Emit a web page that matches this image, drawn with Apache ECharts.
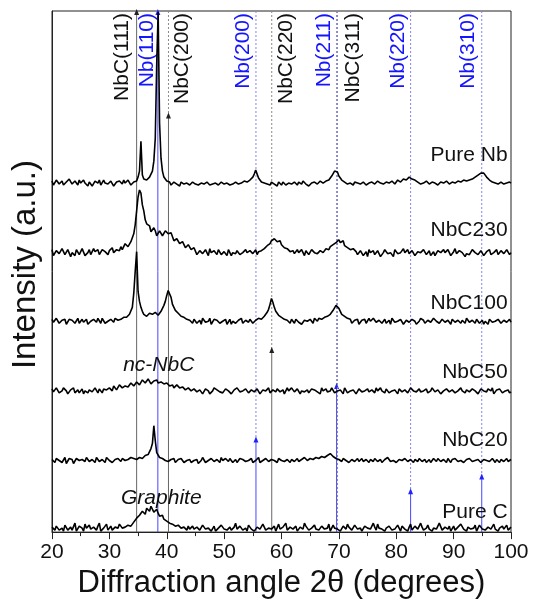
<!DOCTYPE html>
<html>
<head>
<meta charset="utf-8">
<script src="https://cdn.jsdelivr.net/npm/echarts@6/dist/echarts.min.js"></script>
<style>
  html, body { margin: 0; padding: 0; background: #fff; }
  #chart { width: 536px; height: 604px; }
</style>
</head>
<body>
<div id="chart"></div>
<script>
// XRD patterns. Each pattern has two lists:
//   *At  -> values at 20, 20.5, 21 ... 100 deg (161 points)
//   *Mid -> values at 20.25, 20.75 ... 99.75 deg (160 points)
// Values are heights above the pattern's own baseline (a.u.).
const sampleNames = ["Pure Nb", "NbC230", "NbC100", "NbC50", "NbC20", "Pure C"];
const sampleOffsets = [351, 281, 212, 142, 72, 3];

const pureNbAt = [
  2,-1,3,0,-2,1,4,-1,2,-2,0,3,-1,1,-3,2,0,-2,3,1,-1,2,-2,0,1,3,-1,2,0,1,
  6,42,4,3,6,12,45,172,25,6,2,
  1,-1,0,-2,1,-1,0,-2,1,-1,-2,0,-1,1,-2,-1,0,-2,1,-1,0,-2,-1,1,-1,0,2,1,3,
  6,13,5,1,
  0,-1,-2,0,-1,1,-2,-1,0,-2,-1,0,1,-1,0,-2,-1,1,0,-1,1,2,3,5,
  8,14,7,3,
  1,-1,0,-2,-1,0,-1,1,-2,0,-1,0,1,-1,0,1,2,0,1,2,3,
  3,5,5,4,2,
  0,1,-1,0,-1,1,0,-1,2,0,1,-1,0,1,2,1,3,2,4,5,
  7,9,11,8,4,2,
  1,0,-1,1,0,-1,0
];
const pureNbMid = [
  -2,3,-1,2,-3,0,2,-2,1,3,-1,0,-3,2,-1,1,3,-2,0,-1,2,-3,1,2,-1,0,3,-2,1,
  2,12,8,3,5,9,22,120,60,12,4,
  0,-2,1,-1,-3,0,1,-2,0,-1,1,-3,0,-1,2,-2,0,-1,-3,1,-1,0,-2,1,-1,0,1,2,2,
  4,9,11,3,0,
  -2,0,1,-1,-3,0,1,-2,0,-1,1,-2,0,2,-1,-3,0,1,-1,2,0,2,3,
  7,12,11,5,2,
  -1,0,-2,1,0,-1,1,-2,0,1,-1,2,0,-1,1,0,2,-1,3,1,
  4,3,6,4,3,1,
  -1,0,2,-1,1,0,-2,1,0,2,-1,1,0,2,1,3,2,3,4,
  6,8,10,10,6,3,1,
  0,-1,1,-1,0,1
];

const nbc230At = [
  3,-2,4,-3,1,-4,2,0,-3,4,-1,2,-4,3,-2,1,
  3,-1,4,0,2,5,1,4,
  6,5,8,7,13,28,56,60,42,29,27,20,22,16,21,18,23,17,16,11,13,8,9,5,7,2,
  3,-1,2,-3,1,4,-2,0,3,-2,1,-3,2,0,-1,3,-2,1,0,2,-1,3,1,2,
  4,7,9,11,13,10,8,5,4,1,
  2,-2,0,3,-3,1,-1,2,-2,1,3,2,
  4,6,8,10,13,11,7,5,3,4,
  1,-3,2,-1,-4,0,2,-2,1,-3,3,-1,0,-4,2,1,-2,0,3,-3,
  1,-1,2,-2,4,0,-3,1,-1,2,-2,0,3,-3,1,-1,2,0,-4,1,
  -2,3,-1,0,2,-3,1,-2,0,3,-1,2,-3,1,0
];
const nbc230Mid = [
  -3,2,-1,4,-2,3,-4,1,3,-2,4,-3,0,-2,4,-1,
  -2,3,1,-2,4,0,3,2,
  3,9,6,11,19,42,63,48,33,30,21,25,17,22,17,22,19,20,12,14,9,11,5,8,3,5,
  -2,2,-1,3,-3,0,2,-2,4,-1,0,3,-3,1,2,-2,0,3,-1,2,0,-2,3,1,
  6,5,12,14,11,12,6,7,2,3,
  -1,3,-2,1,2,-2,3,0,-1,2,0,4,
  3,8,7,12,10,12,5,6,1,3,
  -2,2,-3,1,3,-1,-2,2,-4,0,2,-3,1,3,-1,0,4,-2,-1,2,
  -3,1,0,3,-2,2,-1,-3,2,0,3,-2,1,-1,4,-3,0,2,-1,-2,
  3,0,-2,2,-3,1,3,-1,0,-2,2,-1,3,-2
];

const nbc100At = [
  2,-2,3,-1,0,-3,2,1,-2,3,0,-1,2,-3,1,0,3,-2,1,-1,2,0,3,1,2,4,
  4,7,14,50,30,14,7,5,8,7,9,6,10,16,26,30,17,11,8,5,4,2,
  1,-2,2,0,-3,1,-1,3,-2,0,2,-1,1,-3,2,0,-2,1,3,-1,0,2,-2,1,3,2,
  5,9,17,19,10,6,4,2,
  1,-2,0,2,-1,-3,1,0,2,-2,1,3,2,4,
  5,7,11,16,13,7,5,3,
  2,-1,0,-3,1,2,-2,0,3,-1,1,-2,2,0,-3,1,-1,2,0,-2,
  3,-1,1,-3,0,2,-2,1,-1,3,0,-2,2,-1,1,-3,2,0,-1,1,
  -2,3,0,-1,2,-2,1,0,-3,2,1,-1,3,-2,0,1,-1
];
const nbc100Mid = [
  -1,3,-2,1,2,-3,0,3,-1,-2,2,1,-3,0,2,-1,1,3,-2,0,2,-1,1,3,0,2,
  5,9,28,70,20,10,6,7,9,8,7,8,13,20,31,24,14,9,7,4,3,1,
  -1,2,-2,1,3,-1,0,-3,2,1,-2,0,2,-1,-3,1,0,2,-2,1,-1,3,0,2,1,3,
  7,12,23,14,8,5,3,0,
  -1,2,-2,1,0,-2,2,-1,1,3,0,2,3,4,
  6,9,13,16,10,6,4,2,
  -2,1,2,-1,0,-2,3,-1,1,-3,2,0,-2,1,3,-1,0,2,-3,1,
  -1,2,0,-2,3,1,-1,0,-3,2,1,-1,3,-2,0,2,-1,1,-2,0,
  3,-1,1,-2,2,0,-3,1,2,-1,0,2,-2,1,-1,2
];

const nbc50At = [
  2,-2,1,-3,3,0,-1,2,-2,1,0,-3,2,1,-1,3,-2,0,2,1,
  3,0,4,1,5,2,6,4,7,5,
  9,7,10,8,11,9,10,8,9,7,
  8,5,6,4,5,2,4,1,3,0,
  2,-2,1,-1,3,-3,0,2,-1,1,-2,3,0,-3,2,1,-1,-2,2,0,
  3,-1,1,-3,0,2,-2,1,-1,2,0,-3,3,-1,1,-2,2,0,-1,1,
  -3,2,0,-2,3,1,-1,0,2,-2,1,-1,3,-2,0,1,-3,2,-1,0,
  2,-2,1,3,-1,0,-2,2,-3,1,0,2,-1,1,-2,3,0,-1,2,-3,
  1,-2,0,2,-1,3,-2,1,0,-1,2,-3,1,0,-2,2,-1,3,0,-2,
  1,-1,2,0,-3,1,2,-2,0,1,-1
];
const nbc50Mid = [
  -1,3,-2,0,2,-3,1,3,-1,-2,2,0,-2,3,-1,1,2,-2,3,0,
  2,5,1,6,3,5,4,8,5,9,
  6,11,8,12,7,10,11,7,10,8,
  6,7,3,6,3,4,1,3,0,2,
  -1,1,-3,2,0,-2,3,1,-1,-2,2,0,-3,1,3,-1,0,2,-2,1,
  -1,2,-3,1,0,3,-2,0,2,-1,1,-2,0,3,-1,2,-3,1,0,-2,
  2,1,-1,-3,0,2,-1,3,-2,0,1,-3,2,0,-1,3,-2,1,0,2,
  -1,1,-2,0,3,-1,2,-2,0,1,-3,2,1,-1,0,3,-2,1,-1,0,
  2,-2,3,-1,1,-3,0,2,-1,1,-2,0,3,-2,1,-1,2,0,-3,2,
  0,-1,1,3,-2,0,2,-1,1,-2
];

const nbc20At = [
  1,-2,2,-1,0,-3,2,1,-1,2,-2,0,3,-1,1,-2,2,0,-1,3,0,-2,1,2,-1,3,1,0,2,1,
  2,4,3,5,9,17,20,6,3,1,
  2,-1,0,-2,1,2,-2,0,1,-1,2,-3,0,1,-1,2,0,-2,1,3,
  -1,0,2,-2,1,-1,0,2,-1,1,-2,0,3,-1,2,0,-2,1,-1,2,
  0,-1,1,-2,2,0,-1,1,3,0,2,1,3,2,4,3,
  5,7,4,2,
  1,-1,0,2,-2,1,0,-1,2,-2,0,1,-1,2,0,-2,1,3,-1,0,
  -2,1,0,2,-1,1,-2,0,2,-1,1,0,-2,2,-1,0,1,-1,2,-2,
  0,3,-1,1,-2,0,2,-1,1,0,-2,1,2,-1,0,1,-2,2,0,-1,1
];
const nbc20Mid = [
  -1,2,0,-2,3,-1,1,-3,2,0,1,-1,2,-2,0,3,-1,1,-2,2,1,0,-1,3,2,0,1,3,2,1,
  3,2,5,6,12,35,8,3,2,0,
  -1,1,2,-2,0,1,-1,2,-2,0,1,-1,3,-2,0,2,-1,1,-2,0,
  2,-1,1,0,-2,2,1,-1,0,2,-1,1,-2,0,2,-1,1,0,-2,1,
  2,-1,0,1,-1,2,0,3,1,2,0,3,1,4,3,5,
  4,6,3,1,
  -1,2,0,-2,1,-1,2,0,-1,1,-2,0,2,-1,1,-2,0,2,1,-1,
  0,2,-1,1,-2,0,1,-1,2,0,-2,1,-1,0,2,-1,1,-2,0,1,
  2,-1,0,-2,1,2,-1,0,1,-2,1,0,-1,2,-2,0,1,-1,2,0
];

const pureCAt = [
  2,-1,5,0,-2,3,1,-1,6,0,2,-2,1,4,-1,0,3,-2,1,5,0,-1,2,1,4,0,3,2,
  5,9,12,15,17,21,18,22,17,16,12,10,8,6,5,3,4,1,
  2,-1,0,3,-2,1,0,5,-1,2,0,-2,1,4,0,-1,2,0,6,-1,
  1,0,-2,3,1,-1,0,2,4,-1,0,1,-2,5,0,1,-1,2,0,3,
  -1,0,6,1,-2,2,0,-1,3,0,1,-2,4,0,2,-1,1,5,0,-1,
  2,0,-2,3,1,0,6,-1,1,0,-2,2,4,0,-1,1,3,0,-2,5,
  0,1,-1,2,0,4,-1,1,0,6,-1,2,0,-2,3,1,0,5,-1,2,
  0,1,-2,4,0,-1,2,0,5,-1,1,3,0,-1,2
];
const pureCMid = [
  0,3,-1,1,4,-1,2,0,-2,3,1,5,-1,0,2,-1,6,0,1,-1,3,0,2,5,1,2,4,3,
  7,11,14,18,15,19,23,17,20,13,14,8,9,5,6,2,3,0,
  1,3,-1,0,2,-1,4,0,1,-2,3,0,-1,5,1,0,-1,2,0,3,
  -1,1,4,0,-2,2,0,5,-1,1,0,3,-1,0,2,6,-1,0,1,-2,
  2,0,3,-1,1,4,0,-1,2,0,5,-1,1,0,-2,3,0,2,-1,4,
  0,1,-1,3,0,-2,2,5,-1,0,1,3,-1,0,4,-2,1,0,2,-1,
  3,0,6,-1,1,0,-2,2,0,4,-1,1,3,0,-1,2,5,0,-2,1,
  0,4,-1,2,0,-1,3,1,0,-2,2,0,4,1
];

const patternsAt = [pureNbAt, nbc230At, nbc100At, nbc50At, nbc20At, pureCAt];
const patternsMid = [pureNbMid, nbc230Mid, nbc100Mid, nbc50Mid, nbc20Mid, pureCMid];

// reference (stick) positions
const refLabels = ["NbC(111)", "Nb(110)", "NbC(200)", "Nb(200)", "NbC(220)", "Nb(211)", "NbC(311)", "Nb(220)", "Nb(310)"];
const refAngles = [34.75, 38.45, 40.3, 55.55, 58.3, 69.6, 69.75, 82.5, 94.9];
const refPhases = ["NbC", "Nb", "NbC", "Nb", "NbC", "Nb", "NbC", "Nb", "Nb"];
const refSticks = [524, 524, 420, 94, 184, 148, 0, 42, 57];

// text notes on the plot
const noteTexts = ["Pure Nb", "NbC230", "NbC100", "NbC50", "NbC20", "Pure C", "nc-NbC", "Graphite"];

// ---- layout / style ----
const Y_MAX = 524;
const FONT = "'Liberation Sans', Arial, sans-serif";
const phaseStyle = {
  NbC: { text: "#111", solid: "#666", dotted: "#8a8a8a", arrow: "#222" },
  Nb: { text: "#1414ff", solid: "#4646ff", dotted: "#8080ff", arrow: "#2222ff" },
};
const refLabelShift = [-14, -11, 14, -13, 14, -12, 16, -12.5, -13.5]; // px from the line
const noteAnchors = [
  [99.4, 378.5], [99.4, 303.5], [99.4, 230.5], [99.4, 160.5], [99.4, 92.5], [99.4, 20],
  [38.6, 168], [39.05, 34.5],
];

const anglesAt = pureNbAt.map((_, i) => 20 + i * 0.5);
const anglesMid = pureNbMid.map((_, i) => 20.25 + i * 0.5);

const traceSeries = patternsAt.map((at, k) => {
  const mid = patternsMid[k];
  const data = [];
  at.forEach((v, i) => {
    data.push([anglesAt[i], sampleOffsets[k] + v]);
    if (i < mid.length) data.push([anglesMid[i], sampleOffsets[k] + mid[i]]);
  });
  return {
    name: sampleNames[k],
    type: "line",
    data,
    showSymbol: false,
    symbol: "none",
    lineStyle: { color: "#000", width: 1.6 },
    z: 3,
  };
});

const refSeries = {
  type: "custom",
  coordinateSystem: "cartesian2d",
  clip: false,
  z: 1,
  data: refAngles.map((a, i) => [a, refSticks[i], i]),
  renderItem: (params, api) => {
    const i = api.value(2);
    const st = phaseStyle[refPhases[i]];
    const angle = api.value(0);
    const stick = api.value(1);
    const top = api.coord([angle, Y_MAX]);
    const mid = api.coord([angle, stick]);
    const bot = api.coord([angle, 0]);
    const x = top[0];
    const kids = [];
    if (stick < Y_MAX) {
      kids.push({
        type: "line",
        shape: { x1: x, y1: top[1], x2: x, y2: mid[1] },
        style: { stroke: st.dotted, lineWidth: 1, lineDash: [2, 2] },
      });
    }
    if (stick > 0) {
      kids.push({
        type: "line",
        shape: { x1: x, y1: mid[1], x2: x, y2: bot[1] },
        style: { stroke: st.solid, lineWidth: 1 },
      });
      kids.push({
        type: "polygon",
        shape: { points: [[x, mid[1] - 2], [x - 2.5, mid[1] + 4], [x + 2.5, mid[1] + 4]] },
        style: { fill: st.arrow },
      });
    }
    kids.push({
      type: "text",
      x: x + refLabelShift[i],
      y: top[1] + 2,
      rotation: Math.PI / 2,
      style: {
        text: refLabels[i],
        fill: st.text,
        font: "21px " + FONT,
        align: "right",
        verticalAlign: "middle",
      },
    });
    return { type: "group", children: kids };
  },
};

const noteSeries = {
  type: "custom",
  coordinateSystem: "cartesian2d",
  clip: false,
  z: 4,
  data: noteAnchors.map((p, i) => [p[0], p[1], i]),
  renderItem: (params, api) => {
    const i = api.value(2);
    const p = api.coord([api.value(0), api.value(1)]);
    const italic = i >= 6;
    return {
      type: "text",
      x: p[0],
      y: p[1],
      style: {
        text: noteTexts[i],
        fill: "#111",
        font: (italic ? "italic " : "") + "21px " + FONT,
        align: italic ? "center" : "right",
        verticalAlign: "middle",
      },
    };
  },
};

const chart = echarts.init(document.getElementById("chart"), null, { renderer: "canvas" });
chart.setOption({
  backgroundColor: "#fff",
  animation: false,
  grid: {
    left: 52, right: 25, top: 11, bottom: 69,
    show: true, borderColor: "#222", borderWidth: 1,
  },
  xAxis: {
    type: "value",
    min: 20,
    max: 100,
    interval: 10,
    name: "Diffraction angle 2\u03b8 (degrees)",
    nameLocation: "middle",
    nameGap: 34,
    nameTextStyle: { fontSize: 31, color: "#111", fontFamily: FONT },
    axisLine: { lineStyle: { color: "#222", width: 1 } },
    axisTick: { inside: false, length: 7, lineStyle: { color: "#222" } },
    minorTick: { show: true, splitNumber: 2, length: 4, lineStyle: { color: "#222" } },
    axisLabel: { fontSize: 21, color: "#111", fontFamily: FONT, margin: 10 },
    splitLine: { show: false },
  },
  yAxis: {
    type: "value",
    min: 0,
    max: Y_MAX,
    name: "Intensity (a.u.)",
    nameLocation: "middle",
    nameGap: 10,
    nameTextStyle: { fontSize: 33, color: "#111", fontFamily: FONT, padding: [0, 0, 0, 14] },
    axisLine: { show: true, lineStyle: { color: "#222", width: 1 } },
    axisTick: { show: false },
    axisLabel: { show: false },
    splitLine: { show: false },
  },
  series: [refSeries, ...traceSeries, noteSeries],
});
</script>
</body>
</html>
